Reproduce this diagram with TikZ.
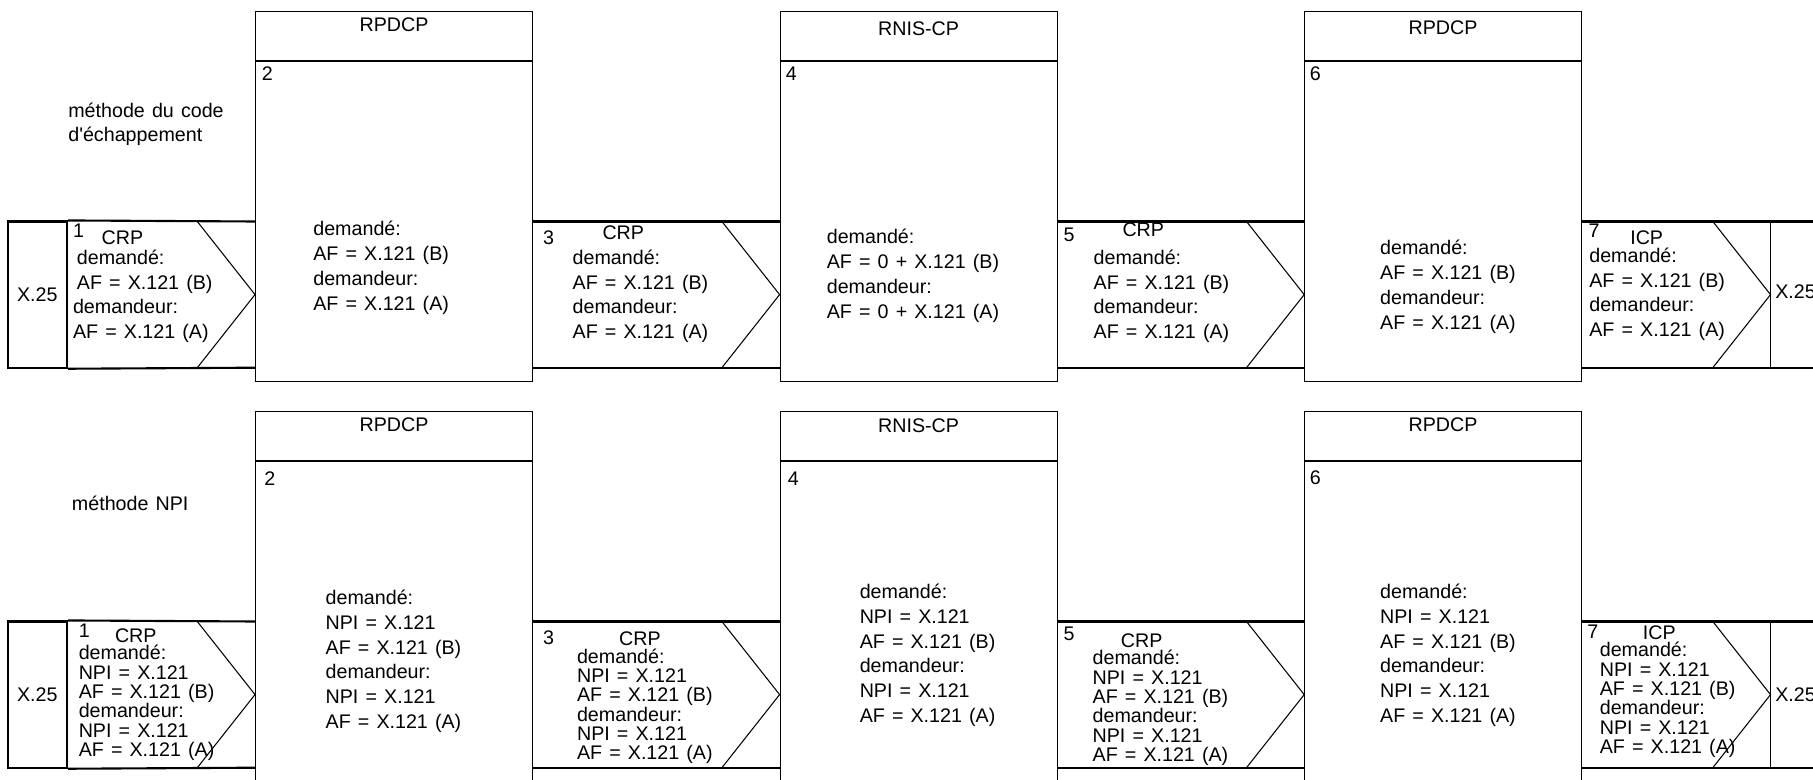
\documentclass[tikz,border=0pt]{standalone}
\usepackage{fontspec}
\setmainfont[WordSpace=1.3]{Liberation Sans}
\usetikzlibrary{calc}

\begin{document}
\begin{tikzpicture}[x=0.02cm, y=-0.02cm,
    cpbox/.style={draw, line width=0.6pt, minimum width=5.54cm, minimum height=7.414cm, inner sep=0},
    band/.style={line width=1.2pt},
    fine/.style={line width=0.6pt},
    tag/.style={anchor=north west, inner sep=0, font=\fontsize{11.2}{13}\selectfont},
    title/.style={anchor=north, inner sep=0, font=\fontsize{11.2}{13}\selectfont},
    cbody/.style={anchor=north west, inner sep=0, align=left, font=\fontsize{11.2}{13.9}\selectfont},
    bbody/.style={cbody, font=\fontsize{11.2}{14.2}\selectfont},
    nbody/.style={cbody, font=\fontsize{11.2}{11}\selectfont},
    x25/.style={draw, line width=1.2pt, minimum width=1.186cm, minimum height=2.924cm, inner sep=0, font=\fontsize{11.2}{13}\selectfont}
]
    \useasboundingbox (0,0) rectangle (1813,780);

    % levels of the two bands
    \coordinate (ta) at (0,221.5);
    \coordinate (ma) at (0,294.6);
    \coordinate (ba) at (0,367.7);
    \coordinate (tb) at (0,621.5);
    \coordinate (mb) at (0,694.6);
    \coordinate (bb) at (0,767.7);
    \coordinate (edge) at (1830,0);

    % méthode du code d'échappement
    \node[cbody, font=\fontsize{11.2}{13.7}\selectfont] (m1) at (68,103) {méthode du code\\d\textquotesingle échappement};

    \node[cpbox] (p2a) at (394,196.35) {};
    \node[cpbox] (p4a) at (918.6,196.35) {};
    \node[cpbox] (p6a) at (1443.2,196.35) {};
    \draw[band] ($(p2a.north west)+(0,50.7)$) -- ($(p2a.north east)+(0,50.7)$);
    \draw[band] ($(p4a.north west)+(0,50.7)$) -- ($(p4a.north east)+(0,50.7)$);
    \draw[band] ($(p6a.north west)+(0,50.7)$) -- ($(p6a.north east)+(0,50.7)$);

    \node[x25] (x25a) at (37.35,294.6) {X.25};
    \node[anchor=west, inner xsep=0.09cm, inner ysep=0, font=\fontsize{11.2}{13}\selectfont] (x25ra) at (1770.5,292) {X.25};

    \draw[band] (x25a.north east) -- (p2a.west |- ta);
    \draw[band] (x25a.south east) -- (p2a.west |- ba);
    \draw[band] (p2a.east |- ta) -- (p4a.west |- ta);
    \draw[band] (p2a.east |- ba) -- (p4a.west |- ba);
    \draw[band] (p4a.east |- ta) -- (p6a.west |- ta);
    \draw[band] (p4a.east |- ba) -- (p6a.west |- ba);
    \draw[band] (p6a.east |- ta) -- (edge |- ta);
    \draw[band] (p6a.east |- ba) -- (edge |- ba);
    \draw[fine] (x25ra.west |- ta) -- (x25ra.west |- ba);

    \draw[fine] ($(p2a.west |- ta)+(-57.7,0)$) -- (p2a.west |- ma) -- ($(p2a.west |- ba)+(-57.7,0)$);
    \draw[fine] ($(p4a.west |- ta)+(-57.7,0)$) -- (p4a.west |- ma) -- ($(p4a.west |- ba)+(-57.7,0)$);
    \draw[fine] ($(p6a.west |- ta)+(-57.7,0)$) -- (p6a.west |- ma) -- ($(p6a.west |- ba)+(-57.7,0)$);
    \draw[fine] ($(x25ra.west |- ta)+(-57.7,0)$) -- (x25ra.west |- ma) -- ($(x25ra.west |- ba)+(-57.7,0)$);

    \node[tag] (n1a) at (72.7,224) {1};
    \node[title] (crp1a) at (122.5,230) {CRP};
    \node[cbody] (c1a) at (72.7,250) {\hspace{2.2pt}demandé:\\\hspace{2.2pt}AF = X.121 (B)\\demandeur:\\AF = X.121 (A)};
    \node[title] (h2a) at (394,17) {RPDCP};
    \node[tag] (n2a) at (261.4,66.7) {2};
    \node[bbody] (d2a) at (313,221) {demandé:\\AF = X.121 (B)\\demandeur:\\AF = X.121 (A)};
    \node[tag] (n3a) at (542.7,230) {3};
    \node[title] (crp3a) at (623.3,225) {CRP};
    \node[cbody] (c3a) at (572.3,250) {demandé:\\AF = X.121 (B)\\demandeur:\\AF = X.121 (A)};
    \node[title] (h4a) at (918.6,21) {RNIS-CP};
    \node[tag] (n4a) at (785.6,66.7) {4};
    \node[bbody] (d4a) at (826.5,229) {demandé:\\AF = 0 + X.121 (B)\\demandeur:\\AF = 0 + X.121 (A)};
    \node[tag] (n5a) at (1063.3,228) {5};
    \node[title] (crp5a) at (1143.3,222) {CRP};
    \node[cbody] (c5a) at (1093.3,250) {demandé:\\AF = X.121 (B)\\demandeur:\\AF = X.121 (A)};
    \node[title] (h6a) at (1443,20) {RPDCP};
    \node[tag] (n6a) at (1309.5,66.7) {6};
    \node[bbody] (d6a) at (1379.8,240) {demandé:\\AF = X.121 (B)\\demandeur:\\AF = X.121 (A)};
    \node[tag] (n7a) at (1588.3,224) {7};
    \node[title] (icp7a) at (1646.7,230) {ICP};
    \node[cbody] (c7a) at (1589,248) {demandé:\\AF = X.121 (B)\\demandeur:\\AF = X.121 (A)};

    % méthode NPI
    \node[tag] (m2) at (71.6,496) {méthode NPI};

    \node[cpbox] (p2b) at (394,596.35) {};
    \node[cpbox] (p4b) at (918.6,596.35) {};
    \node[cpbox] (p6b) at (1443.2,596.35) {};
    \draw[band] ($(p2b.north west)+(0,50.7)$) -- ($(p2b.north east)+(0,50.7)$);
    \draw[band] ($(p4b.north west)+(0,50.7)$) -- ($(p4b.north east)+(0,50.7)$);
    \draw[band] ($(p6b.north west)+(0,50.7)$) -- ($(p6b.north east)+(0,50.7)$);

    \node[x25] (x25b) at (37.35,694.6) {X.25};
    \node[anchor=west, inner xsep=0.09cm, inner ysep=0, font=\fontsize{11.2}{13}\selectfont] (x25rb) at (1770.5,695) {X.25};

    \draw[band] (x25b.north east) -- (p2b.west |- tb);
    \draw[band] (x25b.south east) -- (p2b.west |- bb);
    \draw[band] (p2b.east |- tb) -- (p4b.west |- tb);
    \draw[band] (p2b.east |- bb) -- (p4b.west |- bb);
    \draw[band] (p4b.east |- tb) -- (p6b.west |- tb);
    \draw[band] (p4b.east |- bb) -- (p6b.west |- bb);
    \draw[band] (p6b.east |- tb) -- (edge |- tb);
    \draw[band] (p6b.east |- bb) -- (edge |- bb);
    \draw[fine] (x25rb.west |- tb) -- (x25rb.west |- bb);

    \draw[fine] ($(p2b.west |- tb)+(-57.7,0)$) -- (p2b.west |- mb) -- ($(p2b.west |- bb)+(-57.7,0)$);
    \draw[fine] ($(p4b.west |- tb)+(-57.7,0)$) -- (p4b.west |- mb) -- ($(p4b.west |- bb)+(-57.7,0)$);
    \draw[fine] ($(p6b.west |- tb)+(-57.7,0)$) -- (p6b.west |- mb) -- ($(p6b.west |- bb)+(-57.7,0)$);
    \draw[fine] ($(x25rb.west |- tb)+(-57.7,0)$) -- (x25rb.west |- mb) -- ($(x25rb.west |- bb)+(-57.7,0)$);

    \node[tag] (n1b) at (78.4,623.5) {1};
    \node[title] (crp1b) at (135.8,628.3) {CRP};
    \node[nbody] (c1b) at (78.4,645) {demandé:\\NPI = X.121\\AF = X.121 (B)\\demandeur:\\NPI = X.121\\AF = X.121 (A)};
    \node[title] (h2b) at (394,417) {RPDCP};
    \node[tag] (n2b) at (264,471) {2};
    \node[bbody] (d2b) at (325.3,589.3) {demandé:\\NPI = X.121\\AF = X.121 (B)\\demandeur:\\NPI = X.121\\AF = X.121 (A)};
    \node[tag] (n3b) at (542.7,630) {3};
    \node[title] (crp3b) at (640,631.7) {CRP};
    \node[nbody] (c3b) at (576.7,648.3) {demandé:\\NPI = X.121\\AF = X.121 (B)\\demandeur:\\NPI = X.121\\AF = X.121 (A)};
    \node[title] (h4b) at (918.6,418) {RNIS-CP};
    \node[tag] (n4b) at (787.5,471.7) {4};
    \node[bbody] (d4b) at (859.4,583.3) {demandé:\\NPI = X.121\\AF = X.121 (B)\\demandeur:\\NPI = X.121\\AF = X.121 (A)};
    \node[tag] (n5b) at (1063.3,626.7) {5};
    \node[title] (crp5b) at (1141.7,633.3) {CRP};
    \node[nbody] (c5b) at (1092.3,650) {demandé:\\NPI = X.121\\AF = X.121 (B)\\demandeur:\\NPI = X.121\\AF = X.121 (A)};
    \node[title] (h6b) at (1443,417) {RPDCP};
    \node[tag] (n6b) at (1309.5,470) {6};
    \node[bbody] (d6b) at (1379.8,583.3) {demandé:\\NPI = X.121\\AF = X.121 (B)\\demandeur:\\NPI = X.121\\AF = X.121 (A)};
    \node[tag] (n7b) at (1587,625) {7};
    \node[title] (icp7b) at (1659.3,625) {ICP};
    \node[nbody] (c7b) at (1599.5,642) {demandé:\\NPI = X.121\\AF = X.121 (B)\\demandeur:\\NPI = X.121\\AF = X.121 (A)};
\end{tikzpicture}
\end{document}
